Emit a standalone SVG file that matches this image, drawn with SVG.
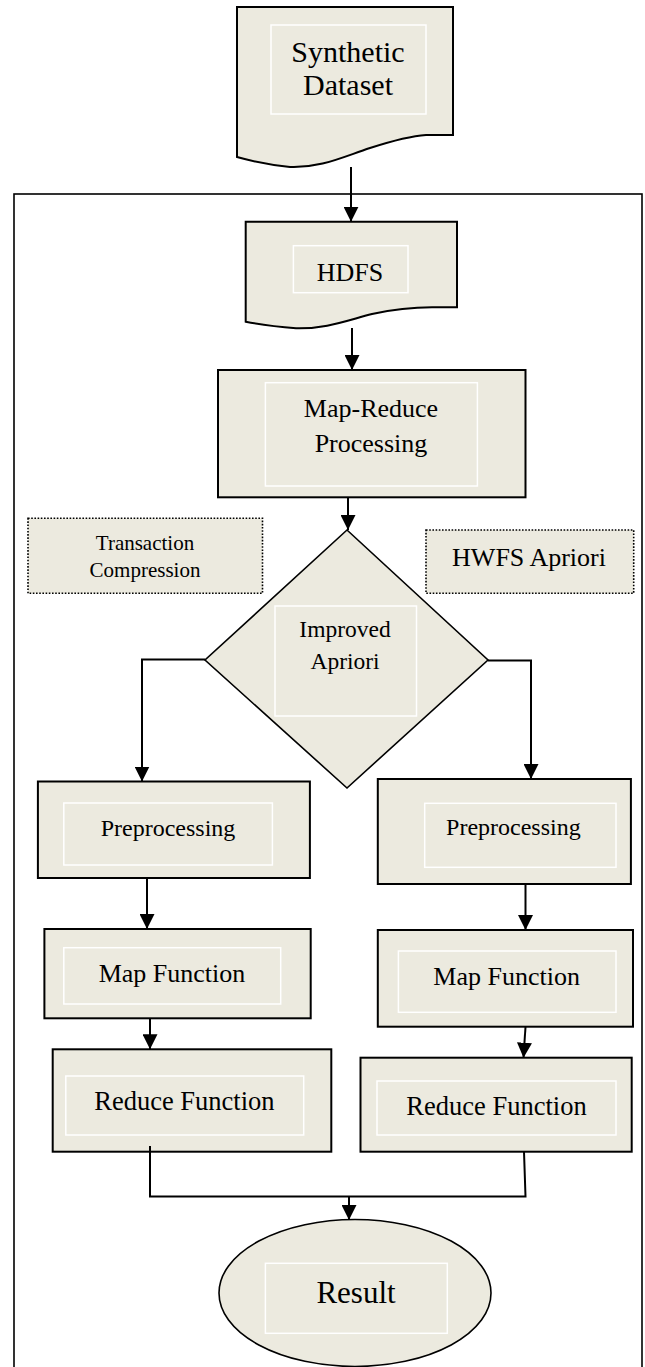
<svg xmlns="http://www.w3.org/2000/svg" width="645" height="1367" viewBox="0 0 645 1367">
  <defs>
    <style>
      .box { fill: #ECEADF; stroke: #000; stroke-width: 2; }
      .thin { fill: #ECEADF; stroke: #000; stroke-width: 1.6; }
      .inner { fill: none; stroke: #fff; stroke-width: 1.5; }
      .dot { fill: #ECEADF; stroke: #000; stroke-width: 1.6; stroke-dasharray: 1.6 1.6; }
      .conn { fill: none; stroke: #000; stroke-width: 2; }
      .frame { fill: none; stroke: #000; stroke-width: 1.6; }
      text { font-family: "Liberation Serif", "Times New Roman", serif; fill: #000; text-anchor: middle; }
    </style>
    <marker id="arrow" viewBox="0 0 15 15" refX="15" refY="7.5" markerWidth="15" markerHeight="15" markerUnits="userSpaceOnUse" orient="auto">
      <path d="M0,0 L15,7.5 L0,15 Z" fill="#000"/>
    </marker>
  </defs>

  <rect width="645" height="1367" fill="#fff"/>

  <!-- enclosing frame of the Hadoop stage -->
  <rect class="frame" x="14" y="194" width="628" height="1185"/>

  <g id="synthetic-dataset">
    <path class="box" d="M237,7 H453 V135 H426 C410,136 395,140 370,148 C340,158 320,168 290,167 Q262,164 237,157 Z"/>
    <rect class="inner" x="271" y="25" width="155" height="89"/>
    <text x="348" y="62" font-size="30">Synthetic</text>
    <text x="348" y="95" font-size="30">Dataset</text>
  </g>

  <g id="hdfs">
    <path class="box" d="M245.7,221.7 H457 V307.3 H432 C415,307.3 395,309 372,314 C345,321 325,329 296,328.3 Q268,326 245.7,321.7 Z"/>
    <rect class="inner" x="293.4" y="245.7" width="114.6" height="47"/>
    <text x="350" y="280.7" font-size="26">HDFS</text>
  </g>

  <g id="map-reduce-processing">
    <rect class="box" x="218" y="370" width="307.5" height="127.3"/>
    <rect class="inner" x="265.4" y="382.7" width="212" height="103.3"/>
    <text x="371" y="416.7" font-size="26">Map-Reduce</text>
    <text x="371" y="451.7" font-size="26">Processing</text>
  </g>

  <g id="transaction-compression">
    <rect class="dot" x="28" y="518.3" width="234.5" height="75"/>
    <text x="145" y="550" font-size="21">Transaction</text>
    <text x="145" y="577" font-size="21">Compression</text>
  </g>

  <g id="hwfs-apriori">
    <rect class="dot" x="426" y="530" width="207.7" height="63.3"/>
    <text x="529" y="566" font-size="26">HWFS Apriori</text>
  </g>

  <g id="improved-apriori">
    <path class="thin" d="M347,530 L488,660 L347,788 L205,660 Z"/>
    <rect class="inner" x="275" y="606" width="141.5" height="110"/>
    <text x="345" y="637.3" font-size="23.5">Improved</text>
    <text x="345" y="669" font-size="23.5">Apriori</text>
  </g>

  <g id="preprocessing-left">
    <rect class="box" x="37.9" y="781.5" width="272" height="96.5"/>
    <rect class="inner" x="63.8" y="803" width="208.6" height="62"/>
    <text x="168" y="836" font-size="24">Preprocessing</text>
  </g>

  <g id="preprocessing-right">
    <rect class="box" x="377.8" y="779" width="253.1" height="105"/>
    <rect class="inner" x="424.7" y="803.3" width="191.3" height="64"/>
    <text x="513.4" y="835" font-size="24">Preprocessing</text>
  </g>

  <g id="map-function-left">
    <rect class="box" x="44.4" y="929" width="266.3" height="89.3"/>
    <rect class="inner" x="63.8" y="947.7" width="216.9" height="56.3"/>
    <text x="172" y="981.7" font-size="26">Map Function</text>
  </g>

  <g id="map-function-right">
    <rect class="box" x="377.8" y="930" width="255.2" height="96.7"/>
    <rect class="inner" x="398.4" y="951" width="217.6" height="61.3"/>
    <text x="506.6" y="985" font-size="26">Map Function</text>
  </g>

  <g id="reduce-function-left">
    <rect class="box" x="52.7" y="1049.3" width="278.6" height="102.4"/>
    <rect class="inner" x="65.8" y="1076" width="237.9" height="59"/>
    <text x="184.4" y="1110" font-size="26.5">Reduce Function</text>
  </g>

  <g id="reduce-function-right">
    <rect class="box" x="360.5" y="1057.7" width="271.2" height="94"/>
    <rect class="inner" x="377" y="1081" width="239" height="54"/>
    <text x="496.5" y="1115" font-size="26.5">Reduce Function</text>
  </g>

  <g id="result">
    <ellipse class="thin" cx="355" cy="1293" rx="136" ry="73.5"/>
    <rect class="inner" x="265.4" y="1263.3" width="181.9" height="70"/>
    <text x="356" y="1302.7" font-size="31">Result</text>
  </g>

  <g id="connectors">
    <path class="conn" d="M351,167 V221.7" marker-end="url(#arrow)"/>
    <path class="conn" d="M352,328 V370" marker-end="url(#arrow)"/>
    <path class="conn" d="M348,497.3 V530" marker-end="url(#arrow)"/>
    <path class="conn" d="M205,659.5 H142 V781.5" marker-end="url(#arrow)"/>
    <path class="conn" d="M488,660.5 H531 V779" marker-end="url(#arrow)"/>
    <path class="conn" d="M147,878 V929" marker-end="url(#arrow)"/>
    <path class="conn" d="M525.5,884 V930" marker-end="url(#arrow)"/>
    <path class="conn" d="M150,1018.3 V1049.3" marker-end="url(#arrow)"/>
    <path class="conn" d="M525.5,1026.7 L523.5,1057.7" marker-end="url(#arrow)"/>
    <path class="conn" d="M150,1146 V1196.5 H525.5 L524,1151.7"/>
    <path class="conn" d="M349,1196.5 V1220" marker-end="url(#arrow)"/>
  </g>
</svg>
